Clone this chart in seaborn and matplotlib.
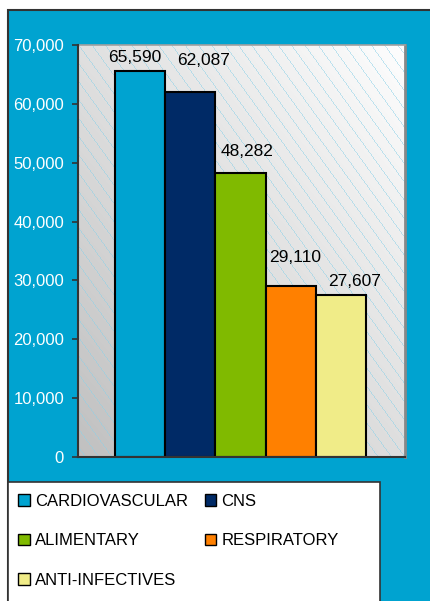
import numpy as np
import pandas as pd
import matplotlib
matplotlib.use("Agg")
import matplotlib.pyplot as plt
from matplotlib.patches import Rectangle, Patch
import seaborn as sns

categories = ["CARDIOVASCULAR", "CNS", "ALIMENTARY", "RESPIRATORY", "ANTI-INFECTIVES"]
values = [65590, 62087, 48282, 29110, 27607]
colors = ["#00A3D0", "#002A66", "#80BA00", "#FF8000", "#F0EC88"]
yticks = [0, 10000, 20000, 30000, 40000, 50000, 60000, 70000]
ytick_labels = ["0", "10,000", "20,000", "30,000", "40,000", "50,000", "60,000", "70,000"]

# label placement offsets (pixels) relative to bar top centre, as in the original
label_dx_px = [-5, 13, 7, 4.5, 14]
label_dy_px = [9, 27, 17, 24, 9]

BG = "#00A3D0"

sns.set_theme(style="white")
plt.rcParams["font.family"] = ["Liberation Sans", "DejaVu Sans"]
plt.rcParams["text.color"] = "black"

W, H = 430, 601
fig = plt.figure(figsize=(W / 100, H / 100), dpi=100)
fig.patch.set_facecolor("white")

# blue chart background with dark top/left border
fig.patches.append(Rectangle((8 / W, -0.05), 1.2, (591 / H) + 0.05, transform=fig.transFigure,
                             facecolor=BG, edgecolor="#333333", linewidth=1.5, zorder=-2))

ax = fig.add_axes([78 / W, 144 / H, 327 / W, 412 / H])
ax.set_facecolor("none")
ax.set_zorder(1)

# gradient + hatch background of plot area
pw, ph = 327, 412
jj, ii = np.meshgrid(np.arange(pw), np.arange(ph))
xf = jj / pw
yup = 1 - ii / ph
gray = (192 + 30 * xf + 32 * yup) / 255.0
img = np.dstack([gray, gray, gray])
line = np.mod(jj - ii / 1.375, 13.3) < 1.0
lc = np.array([0.55, 0.82, 0.91])
a = 0.55
img[line] = img[line] * (1 - a) + lc * a
ax.imshow(img, extent=[0, 1, 0, 1], transform=ax.transAxes, aspect="auto",
          interpolation="nearest", zorder=0)

df = pd.DataFrame({"category": categories, "value": values})
sns.barplot(data=df, x="category", y="value", hue="category", palette=colors,
            width=1.0, edgecolor="black", linewidth=1.5, legend=False, ax=ax,
            saturation=1, zorder=2)

for i, v in enumerate(values):
    ax.annotate(f"{v:,.0f}", xy=(i, v), xytext=(label_dx_px[i] * 0.72, label_dy_px[i] * 0.72),
                textcoords="offset points", ha="center", va="baseline",
                fontsize=12.5, color="black", zorder=4)

ax.set_ylim(0, 70000)
ax.set_xlim(-1.237, 5.277)
ax.set_yticks(yticks)
ax.set_yticklabels(ytick_labels, color="white", fontsize=12)
ax.set_xticks([])
ax.set_xlabel("")
ax.set_ylabel("")
ax.tick_params(axis="y", which="both", left=True, length=4, width=1.2, color="#333333", pad=6)

for s in ["left", "bottom"]:
    ax.spines[s].set_color("#333333")
    ax.spines[s].set_linewidth(1.5)
    ax.spines[s].set_zorder(3)
ax.spines["top"].set_color("#A0A0A0")
ax.spines["top"].set_linewidth(1.2)
ax.spines["right"].set_color("#888888")
ax.spines["right"].set_linewidth(2)

# legend box
fig.patches.append(Rectangle((8 / W, -0.05), 372 / W, (601 - 482) / H + 0.05,
                             transform=fig.transFigure, facecolor="white",
                             edgecolor="#333333", linewidth=1.2, zorder=-1))

order = [0, 2, 4, 1, 3]
handles = [Patch(facecolor=colors[i], edgecolor="black", linewidth=1.0) for i in order]
labels = [categories[i] for i in order]
leg = fig.legend(handles, labels, loc="upper left", bbox_to_anchor=(18 / W, (601 - 494) / H),
                 ncol=2, frameon=False, fontsize=12, handlelength=0.7, handleheight=0.7,
                 handletextpad=0.3, columnspacing=1.02, labelspacing=1.46,
                 borderpad=0, borderaxespad=0)
leg.set_zorder(2)
for t in leg.get_texts():
    t.set_color("black")

fig.savefig("out.png", dpi=100)
